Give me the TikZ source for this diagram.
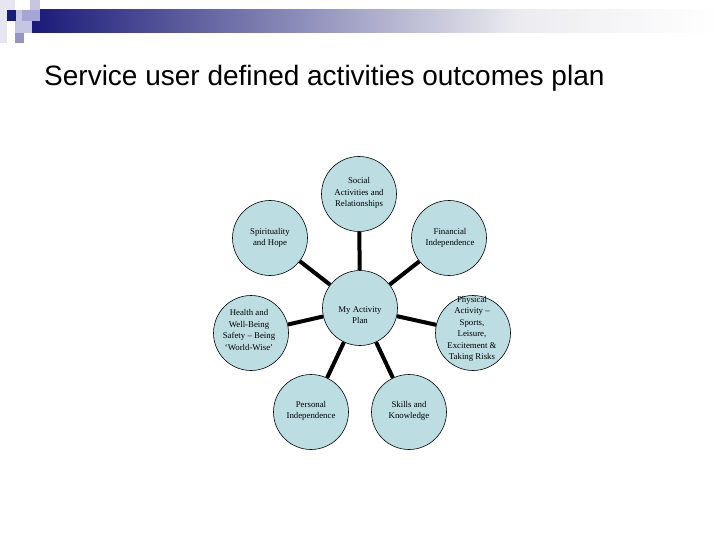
\documentclass[tikz,border=0pt]{standalone}
\usepackage{fontspec}
\setmainfont{Liberation Serif}
\newfontfamily\titlefont{Liberation Sans}
\definecolor{navy}{HTML}{1A1A78}
\definecolor{circfill}{HTML}{BCDDE2}
\definecolor{lav1}{HTML}{E6E6F2}
\definecolor{lav2}{HTML}{C6C6E4}
\definecolor{lav3}{HTML}{A6A6D6}
\definecolor{lav4}{HTML}{9494C6}
\definecolor{fade}{HTML}{ECECF0}
\tikzset{
  topic/.style={circle, draw=black, line width=0.6pt, fill=circfill, minimum size=75pt, inner sep=0pt},
  topictext/.style={align=center, font=\fontsize{8.8}{11.5}\selectfont, inner sep=0pt},
  link/.style={line width=4pt, black},
}
\begin{document}
\begin{tikzpicture}[x=1pt,y=-1pt]
\useasboundingbox (0,0) rectangle (720,540);
\fill[white] (0,0) rectangle (720,540);
% header bar
\shade[left color=navy, right color=fade] (32,10) rectangle (520,33);
\shade[left color=fade, right color=white] (520,10) rectangle (720,33);
% header squares
\fill[lav1] (0,0) rectangle (15,10);
\fill[lav1] (0,10) rectangle (7,43);
\fill[lav2] (30,0) rectangle (40,10);
\fill[navy] (7,10) rectangle (16,21);
\fill[lav2] (16,10) rectangle (22,21);
\fill[lav3] (22,10) rectangle (40,21);
\fill[lav2] (15,21) rectangle (32,33);
\fill[lav4] (15,33) rectangle (24,43);
% title
\node[anchor=base west, inner sep=0pt, font=\titlefont\fontsize{28}{32}\selectfont] (title) at (44,86) {Service user defined activities outcomes plan};
% circles
\node[topic] (plan) at (360,308) {};
\node[topic] (social) at (359,194) {};
\node[topic] (spirit) at (270,238) {};
\node[topic] (finance) at (449,238) {};
\node[topic] (health) at (251,333) {};
\node[topic] (physical) at (473,333) {};
\node[topic] (personal) at (311,412) {};
\node[topic] (skills) at (409,412) {};
% connectors
\draw[link] (plan) -- (social);
\draw[link] (plan) -- (spirit);
\draw[link] (plan) -- (finance);
\draw[link] (plan) -- (health);
\draw[link] (plan) -- (physical);
\draw[link] (plan) -- (personal);
\draw[link] (plan) -- (skills);
% texts
\node[topictext] (tplan) at (360,315) {My Activity\\Plan};
\node[topictext] (tsocial) at (359,193) {Social\\Activities and\\Relationships};
\node[topictext] (tspirit) at (270,238) {Spirituality\\and Hope};
\node[topictext] (tfinance) at (450,238) {Financial\\Independence};
\node[topictext] (thealth) at (249,330) {Health and\\Well-Being\\Safety -- Being\\`World-Wise'};
\node[topictext] (tphysical) at (472,329) {Physical\\Activity --\\Sports,\\Leisure,\\Excitement \&\\Taking Risks};
\node[topictext] (tpersonal) at (311,411) {Personal\\Independence};
\node[topictext] (tskills) at (409,411) {Skills and\\Knowledge};
\end{tikzpicture}
\end{document}
